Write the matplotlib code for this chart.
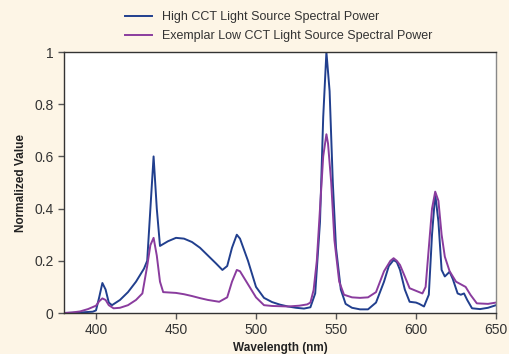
import matplotlib.pyplot as plt

# spectral power data
wl_high = [380, 390, 398, 400, 402, 404, 406, 408, 410, 415, 420, 425, 430, 432, 434, 436,
           438, 440, 445, 450, 455, 460, 465, 470, 475, 479, 482, 485, 488, 490, 495, 500,
           505, 510, 515, 520, 525, 530, 534, 537, 540, 542, 544, 546, 548, 550, 553, 556,
           560, 565, 570, 575, 580, 583, 586, 588, 590, 593, 596, 600, 602, 605, 608, 610,
           612, 614, 616, 618, 621, 623, 626, 628, 630, 632, 635, 640, 645, 650]
val_high = [0, 0.002, 0.005, 0.01, 0.06, 0.115, 0.09, 0.04, 0.03, 0.05, 0.08, 0.12, 0.17, 0.2,
            0.4, 0.6, 0.4, 0.257, 0.275, 0.288, 0.285, 0.272, 0.25, 0.22, 0.19, 0.165, 0.18,
            0.25, 0.3, 0.285, 0.2, 0.1, 0.058, 0.042, 0.032, 0.025, 0.02, 0.017, 0.022, 0.075,
            0.35, 0.75, 1.0, 0.85, 0.5, 0.25, 0.09, 0.035, 0.02, 0.014, 0.014, 0.04, 0.12,
            0.18, 0.203, 0.195, 0.165, 0.09, 0.043, 0.04, 0.035, 0.025, 0.07, 0.3, 0.456,
            0.35, 0.165, 0.14, 0.158, 0.13, 0.075, 0.07, 0.075, 0.05, 0.018, 0.015, 0.02, 0.03]

wl_low = [380, 385, 390, 395, 400, 402, 404, 406, 408, 411, 415, 420, 425, 429, 432, 434, 436,
          438, 440, 442, 450, 455, 460, 465, 470, 477, 482, 485, 488, 490, 495, 500, 505, 510,
          520, 527, 532, 534, 536, 538, 540, 542, 544, 545, 547, 549, 552, 555, 560, 565, 570,
          575, 580, 584, 586, 588, 590, 593, 596, 600, 604, 606, 608, 610, 612, 614, 616, 618,
          621, 625, 628, 631, 634, 638, 645, 650]
val_low = [0, 0.002, 0.006, 0.015, 0.028, 0.045, 0.056, 0.05, 0.03, 0.018, 0.02, 0.03, 0.05,
           0.075, 0.18, 0.26, 0.288, 0.22, 0.12, 0.08, 0.077, 0.072, 0.065, 0.057, 0.05, 0.043,
           0.06, 0.12, 0.165, 0.16, 0.11, 0.06, 0.03, 0.027, 0.025, 0.028, 0.033, 0.04, 0.088,
           0.2, 0.4, 0.6, 0.685, 0.65, 0.5, 0.28, 0.12, 0.07, 0.06, 0.058, 0.06, 0.08, 0.16,
           0.2, 0.21, 0.2, 0.184, 0.14, 0.095, 0.085, 0.075, 0.1, 0.25, 0.4, 0.465, 0.43, 0.3,
           0.216, 0.16, 0.12, 0.11, 0.1, 0.07, 0.037, 0.035, 0.04]

x_ticks = [400, 450, 500, 550, 600, 650]
y_ticks = [0, 0.2, 0.4, 0.6, 0.8, 1]
y_labels = ['0', '0.2', '0.4', '0.6', '0.8', '1']

plt.rcParams['font.family'] = ['Liberation Sans', 'DejaVu Sans']

bg = '#fdf5e6'
fig = plt.figure(figsize=(5.09, 3.54), dpi=100, facecolor=bg)
ax = fig.add_axes([0.1257, 0.1158, 0.8488, 0.7372])
ax.set_facecolor('white')

ax.plot(wl_high, val_high, color='#213f8e', lw=1.4,
        label='High CCT Light Source Spectral Power')
ax.plot(wl_low, val_low, color='#8a3c9e', lw=1.4,
        label='Exemplar Low CCT Light Source Spectral Power')

ax.set_xlim(380, 650)
ax.set_ylim(0, 1)
ax.set_xticks(x_ticks)
ax.set_yticks(y_ticks)
ax.set_yticklabels(y_labels)
ax.tick_params(direction='out', length=4, width=1, color='#555555',
               labelsize=10, labelcolor='#333333')

for side in ['left', 'bottom', 'top']:
    ax.spines[side].set_color('#333333')
ax.spines['right'].set_color('#888888')
for s in ax.spines.values():
    s.set_linewidth(1.0)

ax.set_xlabel('Wavelength (nm)', fontsize=8.5, fontweight='bold', color='#222222', labelpad=3)
ax.set_ylabel('Normalized Value', fontsize=8.5, fontweight='bold', color='#222222', labelpad=5)

fig.legend(loc='upper center', bbox_to_anchor=(0.548, 1.0), frameon=False,
           fontsize=9, handlelength=2.2, labelspacing=0.55, labelcolor='#333333')

fig.savefig('out.png', dpi=100, facecolor=bg)
